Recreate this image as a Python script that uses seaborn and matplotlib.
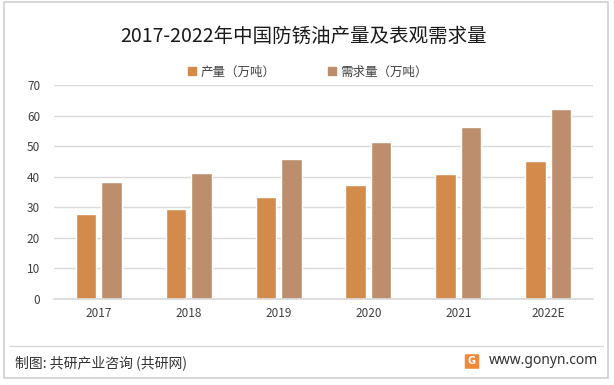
import pandas as pd
import matplotlib.pyplot as plt
import matplotlib.patches as mpatches
import seaborn as sns

# Data
YEARS = ['2017', '2018', '2019', '2020', '2021', '2022E']
OUTPUT = [27.9, 29.5, 33.4, 37.4, 40.9, 45.2]
DEMAND = [38.3, 41.3, 45.8, 51.4, 56.3, 62.2]
SERIES = ['产量（万吨）', '需求量（万吨）']
COLORS = ['#D38B4C', '#BC8E6D']

sns.set_theme(style="white")
plt.rcParams['font.family'] = ['Noto Sans CJK SC', 'DejaVu Sans']

df = pd.DataFrame({
    'year': YEARS * 2,
    'series': [SERIES[0]] * len(YEARS) + [SERIES[1]] * len(YEARS),
    'value': OUTPUT + DEMAND,
})

W, H = 614, 385
fig = plt.figure(figsize=(W / 100, H / 100), dpi=100)
ax = fig.add_axes([54 / W, 1 - 299 / H, (593 - 54) / W, (299 - 85) / H])

sns.barplot(data=df, x='year', y='value', hue='series', palette=COLORS,
            width=0.57, gap=0.2, ax=ax, legend=False, saturation=1)

ax.set_ylim(0, 70)
ax.set_yticks(range(0, 71, 10))
ax.set_xlim(-0.5, 5.5)
ax.yaxis.grid(True, color='#D9D9D9', linewidth=1)
ax.set_axisbelow(True)
for s in ['top', 'right', 'left']:
    ax.spines[s].set_visible(False)
ax.spines['bottom'].set_color('#D9D9D9')
ax.set_xlabel('')
ax.set_ylabel('')
ax.tick_params(axis='both', length=0, labelsize=8.5, colors='#404040')
ax.tick_params(axis='y', pad=10)
ax.tick_params(axis='x', pad=6)

# Title and legend
fig.text(303.5 / W, 1 - 36 / H, '2017-2022年中国防锈油产量及表观需求量', ha='center', va='center',
         fontsize=14, color='#1a1a1a')
handles = [mpatches.Patch(color=c, label=l) for c, l in zip(COLORS, SERIES)]
fig.legend(handles=handles, loc='center', bbox_to_anchor=(308 / W, 1 - 72 / H), ncol=2,
           frameon=False, fontsize=9, handlelength=0.6, handleheight=0.6,
           handletextpad=0.4, columnspacing=4.2, labelcolor='#404040')

# Footer
fig.add_artist(plt.Line2D([10 / W, 603 / W], [1 - 346 / H, 1 - 346 / H],
                          color='#D9D9D9', linewidth=1))
fig.text(15 / W, 1 - 363 / H, '制图: 共研产业咨询 (共研网)', ha='left', va='center',
         fontsize=10, color='#333333')
fig.text(598 / W, 1 - 361 / H, 'www.gonyn.com', ha='right', va='center',
         fontsize=10, color='#333333', family=['Noto Sans', 'DejaVu Sans'])
fig.add_artist(mpatches.FancyBboxPatch((466 / W, 1 - 368 / H), 12 / W, 13 / H,
                                       boxstyle='round,pad=0.002',
                                       facecolor='#F2883A', edgecolor='none',
                                       transform=fig.transFigure))
fig.text(472 / W, 1 - 361.5 / H, 'G', ha='center', va='center', fontsize=7,
         color='white', weight='bold', family=['DejaVu Sans'])

# Outer border
fig.add_artist(mpatches.Rectangle((4 / W, 1 - 378 / H), 604 / W, 376 / H, fill=False,
                                  edgecolor='#D0D0D0', linewidth=1.2,
                                  transform=fig.transFigure))

fig.savefig('out.png', dpi=100)
